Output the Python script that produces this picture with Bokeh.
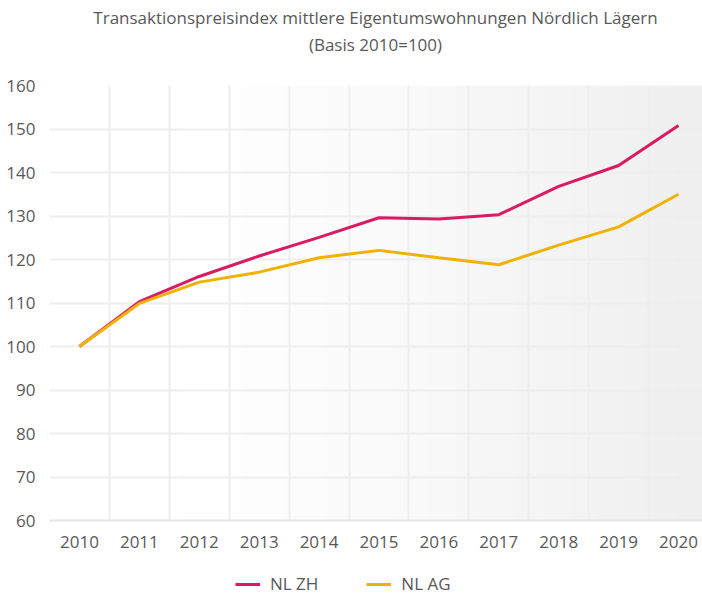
import numpy as np
from bokeh.plotting import figure
from bokeh.layouts import column
from bokeh.models import (Range1d, FixedTicker, Legend, LegendItem,
                          ColumnDataSource, Div)
from bokeh.embed import file_html
from bokeh.resources import INLINE

years = [2010, 2011, 2012, 2013, 2014, 2015, 2016, 2017, 2018, 2019, 2020]
nl_zh = [100.0, 110.3, 116.1, 120.8, 125.1, 129.6, 129.3, 130.3, 136.8, 141.6, 150.8]
nl_ag = [100.0, 109.9, 114.8, 117.1, 120.4, 122.1, 120.4, 118.8, 123.3, 127.5, 135.0]
y_ticks = [60, 70, 80, 90, 100, 110, 120, 130, 140, 150, 160]
series_labels = ["NL ZH", "NL AG"]

TITLE1 = "Transaktionspreisindex mittlere Eigentumswohnungen Nördlich Lägern"
TITLE2 = "(Basis 2010=100)"
FONT = "Open Sans"
TXT = "#595959"
ZH_COLOR = "#d81b63"
AG_COLOR = "#f0b100"

x0, x1 = years[0] - 0.5, years[-1] + 0.4
y0, y1 = y_ticks[0], y_ticks[-1]

# title block
header = Div(text=TITLE1 + "<br>" + TITLE2, width=702, height=75, margin=0,
             styles={"font-family": FONT, "font-size": "17px",
                     "color": TXT, "text-align": "center",
                     "line-height": "27px", "padding-left": "49px",
                     "padding-top": "4px", "box-sizing": "border-box",
                     "background-color": "white"})

p = figure(width=702, height=485, output_backend="svg",
           toolbar_location=None,
           x_range=Range1d(x0, x1), y_range=Range1d(y0, y1),
           min_border_left=49, min_border_right=0, min_border_top=10,
           min_border_bottom=40)
p.title = None
p.outline_line_color = None
p.background_fill_color = "white"
p.border_fill_color = "white"

# subtle background gradient (white left -> light grey right)
nx = 300
fx = np.linspace(0, 1, nx)
t = np.clip((fx - 0.2) / 0.8, 0, 1) ** 1.3
g = (255 - t * 16).astype(np.uint32)
row = (255 << 24) | (g << 16) | (g << 8) | g
img = np.tile(row, (2, 1)).astype(np.uint32)
p.image_rgba(image=[img], x=x0, y=y0, dw=x1 - x0, dh=y1 - y0, level="image")

# grid
p.xgrid.ticker = FixedTicker(ticks=[y - 0.5 for y in years[1:]])
p.xgrid.grid_line_color = "#eeeeee"
p.xgrid.grid_line_width = 2
p.ygrid.ticker = FixedTicker(ticks=y_ticks)
p.ygrid.grid_line_color = "#eeeeee"
p.ygrid.grid_line_width = 2

# axes
p.xaxis.ticker = FixedTicker(ticks=years)
p.yaxis.ticker = FixedTicker(ticks=y_ticks)
for ax in (p.xaxis[0], p.yaxis[0]):
    ax.major_tick_line_color = None
    ax.minor_tick_line_color = None
    ax.major_label_text_font = FONT
    ax.major_label_text_font_size = "17px"
    ax.major_label_text_color = TXT
p.yaxis.axis_line_color = None
p.yaxis.major_label_standoff = 8
p.xaxis.axis_line_color = "#e6e6e6"
p.xaxis.axis_line_width = 2
p.xaxis.major_label_standoff = 9

src = ColumnDataSource(dict(x=years, zh=nl_zh, ag=nl_ag))
p.line("x", "zh", source=src, line_color=ZH_COLOR, line_width=3)
p.line("x", "ag", source=src, line_color=AG_COLOR, line_width=3)

# legend strip below the chart (own small figure, same data, out of view)
lf = figure(width=702, height=34, output_backend="svg", toolbar_location=None,
            x_range=Range1d(0, 1), y_range=Range1d(0, 1),
            min_border=0, min_border_left=0, min_border_right=0,
            min_border_top=0, min_border_bottom=0)
lf.axis.visible = False
lf.grid.visible = False
lf.outline_line_color = None
lf.title = None
lr_zh = lf.line("x", "zh", source=src, line_color=ZH_COLOR, line_width=3)
lr_ag = lf.line("x", "ag", source=src, line_color=AG_COLOR, line_width=3)
legend = Legend(items=[LegendItem(label=series_labels[0], renderers=[lr_zh]),
                       LegendItem(label=series_labels[1], renderers=[lr_ag])],
                orientation="horizontal", location=(186, -1),
                label_text_font=FONT, label_text_font_size="17px",
                label_text_color=TXT, glyph_width=25, glyph_height=10,
                label_standoff=10, spacing=48, border_line_color=None,
                background_fill_alpha=0, margin=0, padding=0)
lf.add_layout(legend, "center")

open("out.html", "w").write(file_html(column(header, p, lf, spacing=0), INLINE))
